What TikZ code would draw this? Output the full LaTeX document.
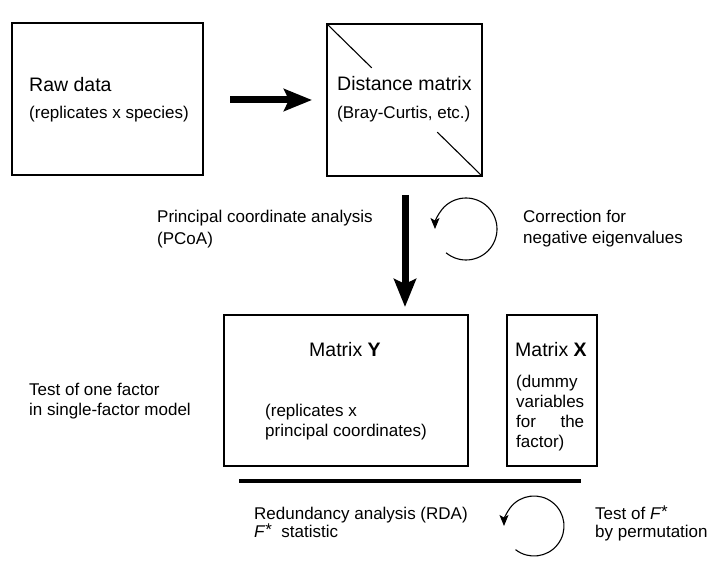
\documentclass[tikz,border=0pt]{standalone}
\usepackage{fontspec}
\setmainfont{Liberation Sans}
\usetikzlibrary{arrows.meta,calc}
\begin{document}
\begin{tikzpicture}[x=1pt,y=-1pt,
  box/.style={draw, line width=1.2pt, inner sep=0pt},
  title/.style={anchor=base west, inner sep=0pt, font=\fontsize{19.5}{23}\selectfont},
  sub/.style={anchor=base west, inner sep=0pt, font=\fontsize{17}{20}\selectfont},
  bigarrow/.style={line width=7pt, -{Stealth[length=28pt,width=22pt,inset=5pt]}},
  looparrow/.style={line width=1.1pt, -{Stealth[length=11pt,width=9pt,inset=2.5pt]}},
  rule/.style={line width=4.5pt}]
\useasboundingbox (0,0) rectangle (720,561);
\fill[white] (0,0) rectangle (720,561);

% boxes
\node[box, minimum width=191pt, minimum height=152pt] (raw) at (107.5,99) {};
\node[box, minimum width=155pt, minimum height=152pt] (dist) at (404.5,100) {};
\node[box, minimum width=244pt, minimum height=151pt] (my) at (346,390.5) {};
\node[box, minimum width=90pt, minimum height=151pt] (mx) at (552,390.5) {};

% diagonal marks in distance matrix
\draw[line width=1.1pt] (dist.north west) -- ($(dist.north west)!0.29!(dist.south east)$);
\draw[line width=1.1pt] ($(dist.north west)!0.71!(dist.south east)$) -- (dist.south east);

% texts
\node[title] (t1) at (29,92) {Raw data};
\node[sub] (t2) at (29,119) {(replicates x species)};
\node[title] (t3) at (337,91) {Distance matrix};
\node[sub] (t4) at (337,119) {(Bray-Curtis, etc.)};
\node[sub] (t5) at (157,223) {Principal coordinate analysis};
\node[sub] (t6) at (157,245) {(PCoA)};
\node[sub] (t7) at (523,223) {Correction for};
\node[sub] (t8) at (523,244) {negative eigenvalues};
\node[title] (t9) at (309,356) {Matrix \textbf{Y}};
\node[sub] (t10) at (265,416) {(replicates x};
\node[sub] (t11) at (265,436) {principal coordinates)};
\node[title] (t12) at (515,356) {Matrix \textbf{X}};
\node[sub] (t13) at (516,387) {(dummy};
\node[sub] (t14) at (516,407) {variables};
\node[sub] (t15) at (516,427) {\makebox[68pt][s]{for the}};
\node[sub] (t16) at (516,447) {factor)};
\node[sub] (t17) at (29,395) {Test of one factor};
\node[sub] (t18) at (29,415) {in single-factor model};
\node[sub] (t19) at (254,519) {Redundancy analysis (RDA)};
\node[sub] (t20) at (254,537) {\textit{F}\raisebox{2pt}{*}\ \ statistic};
\node[sub] (t21) at (595,519) {Test of \textit{F}\raisebox{2pt}{*}};
\node[sub] (t22) at (595,537) {by permutation};

% big arrows
\coordinate (ha) at (230,100);
\coordinate (hb) at (312,100);
\draw[bigarrow] (ha) -- (hb);
\coordinate (va) at (405,195);
\coordinate (vb) at (405,307);
\draw[bigarrow] (va) -- (vb);

% rule
\coordinate (ra) at (239,481);
\coordinate (rb) at (581,481);
\draw[rule] (ra) -- (rb);

% loop arrows
\coordinate (c1) at (466,229);
\draw[looparrow] ($(c1)+(130:31)$) arc[start angle=130, end angle=-180, radius=31];
\coordinate (c2) at (534,526);
\draw[looparrow] ($(c2)+(128:30)$) arc[start angle=128, end angle=-180, radius=30];
\end{tikzpicture}
\end{document}
